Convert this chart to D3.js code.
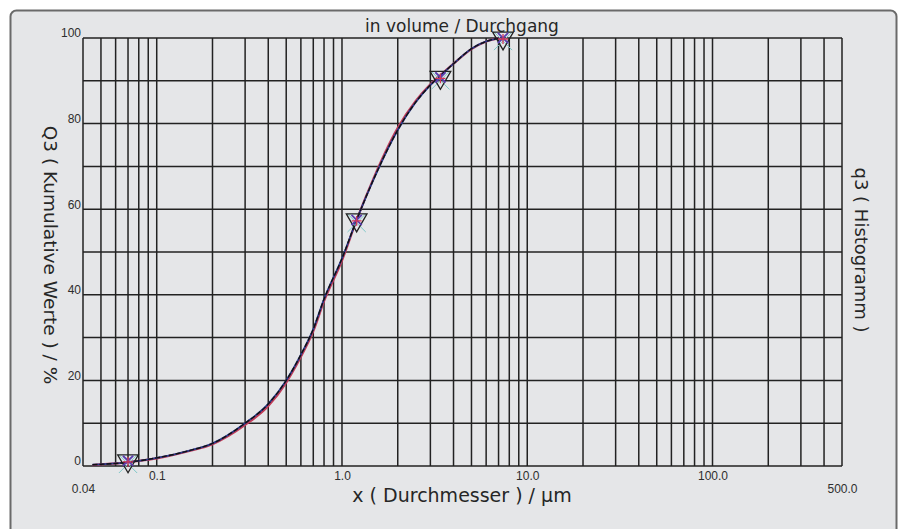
<!DOCTYPE html>
<html lang="de">
<head>
  <meta charset="UTF-8">
  <title>in volume / Durchgang</title>
  <script src="https://d3js.org/d3.v7.min.js"></script>
  <style>
    html, body {
      margin: 0;
      padding: 0;
      background: #fff;
    }

    svg {
      display: block;
      font-family: "DejaVu Sans", sans-serif;
    }

    .grid line {
      stroke: #222;
      stroke-width: 1.5px;
    }

    .axis text {
      font-size: 12px;
      fill: #2e2e2e;
    }

    .axis path,
    .axis line {
      display: none;
    }

    .label {
      fill: #262626;
    }
  </style>
</head>
<body>
  <script>
    // particle sizes (µm) and cumulative passing (%)
    const sizes = [0.045, 0.05, 0.06, 0.07, 0.08, 0.1, 0.15, 0.2, 0.3, 0.4, 0.5, 0.6, 0.7, 0.8,
      1.0, 1.2, 1.5, 2.0, 2.5, 3.0, 3.5, 4.0, 5.0, 6.0, 7.0, 7.5];
    const cumDark = [0.3, 0.4, 0.6, 0.9, 1.2, 1.9, 3.6, 5.3, 10, 14.5, 20, 26, 32, 39,
      48.5, 57.5, 67.5, 78.5, 85, 89, 91.7, 94, 97.5, 99.2, 99.9, 100];
    const cumRed = [0.2, 0.4, 0.6, 0.9, 1.2, 1.8, 3.5, 5.1, 9.6, 14, 19.5, 25.5, 31.5, 38.5,
      48, 57.5, 67.8, 79, 85.3, 89.2, 91.8, 94, 97.4, 99.2, 99.9, 100];

    // measured points drawn with the overlaid markers
    const markX = [0.07, 1.2, 3.4, 7.4];
    const markY = [1.2, 57.5, 90.8, 100];

    // tick labels
    const xMajor = [0.1, 1, 10, 100];
    const xMajorLabels = ["0.1", "1.0", "10.0", "100.0"];
    const xEdge = [0.04, 500];
    const xEdgeLabels = ["0.04", "500.0"];
    const yLabels = [0, 20, 40, 60, 80, 100];

    const width = 900;
    const height = 529;

    const svg = d3.select("body").append("svg")
      .attr("width", width).attr("height", height);

    // outer panel
    svg.append("rect")
      .attr("x", 10.5).attr("y", 10.5)
      .attr("width", 886).attr("height", 560)
      .attr("rx", 6)
      .attr("fill", "#e5e6e8")
      .attr("stroke", "#6a6a6a")
      .attr("stroke-width", 2);

    const plot = {left: 83, right: 842, top: 38, bottom: 466};

    const x = d3.scaleLog().domain([0.04, 500]).range([plot.left, plot.right]);
    const y = d3.scaleLinear().domain([0, 100]).range([plot.bottom, plot.top]);

    // grid: every 1..9 step of each decade, every 10 %
    const grid = svg.append("g").attr("class", "grid");
    grid.selectAll(".v")
      .data(x.ticks())
      .enter().append("line")
      .attr("class", "v")
      .attr("x1", d => x(d)).attr("x2", d => x(d))
      .attr("y1", plot.top).attr("y2", plot.bottom);
    grid.selectAll(".h")
      .data(y.ticks(10))
      .enter().append("line")
      .attr("class", "h")
      .attr("x1", plot.left).attr("x2", plot.right)
      .attr("y1", d => y(d)).attr("y2", d => y(d));

    // axes (labels only)
    svg.append("g")
      .attr("class", "axis")
      .attr("transform", `translate(0, ${plot.bottom})`)
      .call(d3.axisBottom(x).tickValues(xMajor)
        .tickFormat((d, i) => xMajorLabels[i]).tickSize(0).tickPadding(5));

    svg.append("g")
      .attr("class", "axis")
      .attr("transform", `translate(0, ${plot.bottom})`)
      .call(d3.axisBottom(x).tickValues(xEdge)
        .tickFormat((d, i) => xEdgeLabels[i]).tickSize(0).tickPadding(18));

    svg.append("g")
      .attr("class", "axis")
      .attr("transform", `translate(${plot.left}, 0)`)
      .call(d3.axisLeft(y).tickValues(yLabels).tickSize(0).tickPadding(2))
      .selectAll("text").attr("dy", "-0.1em");

    // titles
    svg.append("text")
      .attr("class", "label")
      .attr("x", 462).attr("y", 32)
      .attr("text-anchor", "middle")
      .style("font-size", "17px")
      .text("in volume / Durchgang");

    svg.append("text")
      .attr("class", "label")
      .attr("x", 462).attr("y", 502)
      .attr("text-anchor", "middle")
      .style("font-size", "19px")
      .text("x ( Durchmesser ) / µm");

    svg.append("text")
      .attr("class", "label")
      .attr("transform", "translate(44, 255) rotate(90)")
      .attr("text-anchor", "middle")
      .style("font-size", "18.5px")
      .text("Q3 ( Kumulative Werte ) / %");

    svg.append("text")
      .attr("class", "label")
      .attr("transform", "translate(855, 250) rotate(90)")
      .attr("text-anchor", "middle")
      .style("font-size", "18px")
      .text("q3 ( Histogramm )");

    // cumulative curves
    const line = d3.line()
      .x(d => x(d[0]))
      .y(d => y(d[1]))
      .curve(d3.curveMonotoneX);

    const redPts = sizes.map((s, i) => [s, cumRed[i]]);
    const darkPts = sizes.map((s, i) => [s, cumDark[i]]);

    svg.append("path")
      .attr("d", line(redPts))
      .attr("fill", "none")
      .attr("stroke", "#c23a55")
      .attr("stroke-width", 2.2);

    svg.append("path")
      .attr("d", line(darkPts))
      .attr("fill", "none")
      .attr("stroke", "#2b3a8c")
      .attr("stroke-width", 1.8);

    svg.append("path")
      .attr("d", line(darkPts))
      .attr("fill", "none")
      .attr("stroke", "#111")
      .attr("stroke-width", 1.4)
      .attr("stroke-dasharray", "5,2");

    // overlaid markers
    const marks = svg.append("g").selectAll("g")
      .data(markX.map((m, i) => [m, markY[i]]))
      .enter().append("g")
      .attr("transform", d => `translate(${x(d[0])}, ${y(d[1])})`);

    marks.append("path")
      .attr("d", d3.symbol(d3.symbolTimes, 220))
      .attr("transform", "translate(0, 3)")
      .attr("fill", "none")
      .attr("stroke", "#7fc8c8")
      .attr("stroke-width", 1);

    marks.append("path")
      .attr("d", d3.symbol(d3.symbolTriangle, 185))
      .attr("transform", "rotate(180)")
      .attr("fill", "none")
      .attr("stroke", "#222")
      .attr("stroke-width", 1.3);

    marks.append("path")
      .attr("d", d3.symbol(d3.symbolTimes, 70))
      .attr("fill", "none")
      .attr("stroke", "#5a3fb0")
      .attr("stroke-width", 1.8);

    marks.append("path")
      .attr("d", d3.symbol(d3.symbolPlus, 34))
      .attr("transform", "translate(0, 1)")
      .attr("fill", "none")
      .attr("stroke", "#d2385a")
      .attr("stroke-width", 1.3);
  </script>
</body>
</html>
